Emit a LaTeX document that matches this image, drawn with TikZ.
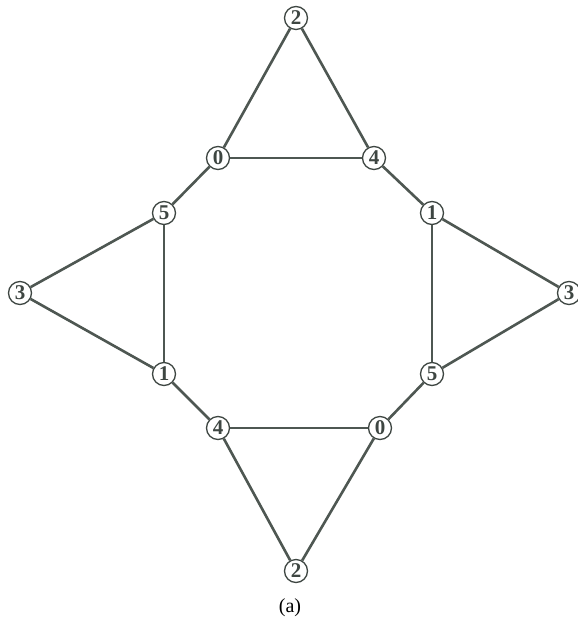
\documentclass[tikz,border=0pt]{standalone}
\usepackage{fontspec}
\setmainfont{Liberation Serif}
\definecolor{edgec}{HTML}{4E5752}
\definecolor{nodec}{HTML}{3E4642}
\begin{document}
\begin{tikzpicture}[x=1pt,y=-1pt,
  vert/.style={circle,draw=nodec,line width=1.3pt,fill=white,minimum size=23pt,inner sep=0pt,font=\fontsize{21}{21}\selectfont\bfseries,text=nodec},
  edge/.style={draw=edgec,line width=2.6pt}]
\useasboundingbox (0,0) rectangle (578,630);
\node[vert] (t2) at (296,18) {2};
\node[vert] (a0) at (218,158) {0};
\node[vert] (a4) at (374,158) {4};
\node[vert] (a5) at (164,213) {5};
\node[vert] (b1) at (432,213) {1};
\node[vert] (l3) at (20,293) {3};
\node[vert] (r3) at (569,293) {3};
\node[vert] (c1) at (164,374) {1};
\node[vert] (c5) at (432,374) {5};
\node[vert] (d4) at (218,428) {4};
\node[vert] (d0) at (380,428) {0};
\node[vert] (b2) at (296,571) {2};
\node[font=\fontsize{20}{20}\selectfont] (cap) at (290,608) {(a)};
\draw[edge] (t2) -- (a0);
\draw[edge] (t2) -- (a4);
\draw[edge] (a0) -- (a4);
\draw[edge] (a0) -- (a5);
\draw[edge] (a4) -- (b1);
\draw[edge] (a5) -- (l3);
\draw[edge] (a5) -- (c1);
\draw[edge] (l3) -- (c1);
\draw[edge] (b1) -- (r3);
\draw[edge] (b1) -- (c5);
\draw[edge] (r3) -- (c5);
\draw[edge] (c1) -- (d4);
\draw[edge] (c5) -- (d0);
\draw[edge] (d4) -- (d0);
\draw[edge] (d4) -- (b2);
\draw[edge] (d0) -- (b2);
\end{tikzpicture}
\end{document}
